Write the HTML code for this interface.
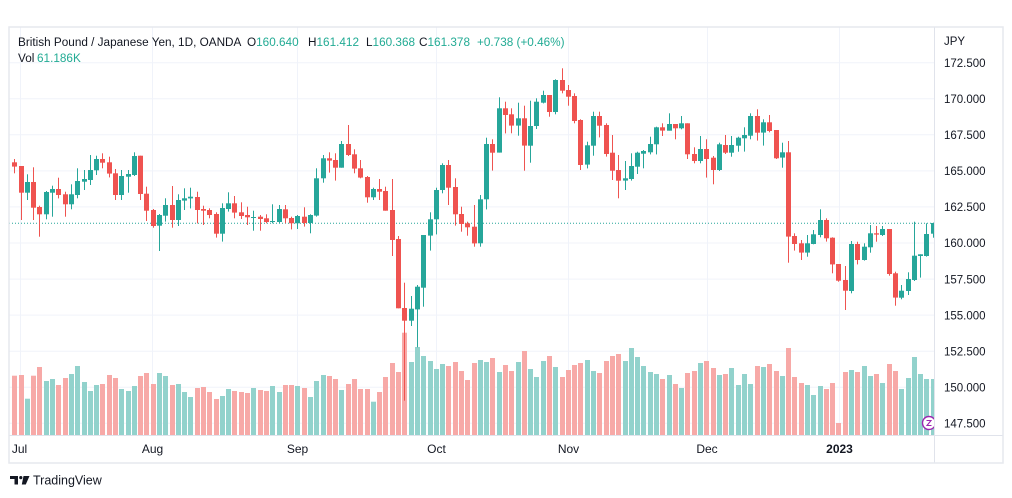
<!DOCTYPE html>
<html>
<head>
<meta charset="utf-8">
<style>
html,body{margin:0;padding:0;background:#fff;width:1012px;height:498px;overflow:hidden;}
svg{display:block;font-family:"Liberation Sans",Arial,sans-serif;}
</style>
</head>
<body>
<svg id="s" width="1012" height="498" viewBox="0 0 1012 498" xmlns="http://www.w3.org/2000/svg">
  <defs>
    <clipPath id="plot"><rect x="9" y="27" width="925" height="408"/></clipPath>
  </defs>
  <rect x="0" y="0" width="1012" height="498" fill="#fff"/>
  <g stroke="#f0f3fa" stroke-width="1">
    <line x1="9" x2="934" y1="62.7" y2="62.7"/>
    <line x1="9" x2="934" y1="98.8" y2="98.8"/>
    <line x1="9" x2="934" y1="134.8" y2="134.8"/>
    <line x1="9" x2="934" y1="170.9" y2="170.9"/>
    <line x1="9" x2="934" y1="206.9" y2="206.9"/>
    <line x1="9" x2="934" y1="243.0" y2="243.0"/>
    <line x1="9" x2="934" y1="279.1" y2="279.1"/>
    <line x1="9" x2="934" y1="315.1" y2="315.1"/>
    <line x1="9" x2="934" y1="351.2" y2="351.2"/>
    <line x1="9" x2="934" y1="387.2" y2="387.2"/>
    <line x1="9" x2="934" y1="423.3" y2="423.3"/>
    <line x1="20.5" x2="20.5" y1="27" y2="435"/>
    <line x1="152.5" x2="152.5" y1="27" y2="435"/>
    <line x1="297.5" x2="297.5" y1="27" y2="435"/>
    <line x1="436.5" x2="436.5" y1="27" y2="435"/>
    <line x1="568.5" x2="568.5" y1="27" y2="435"/>
    <line x1="707.5" x2="707.5" y1="27" y2="435"/>
    <line x1="839.5" x2="839.5" y1="27" y2="435"/>
  </g>
  <g clip-path="url(#plot)">
    <g id="vol"></g>
    <line x1="9" x2="934" y1="223.2" y2="223.2" stroke="#26a69a" stroke-width="1" stroke-dasharray="1 2"/>
    <g id="cdl"></g>
    <circle cx="929" cy="423" r="6.5" fill="#fff" stroke="#9c27b0" stroke-width="1.4"/>
    <path d="M926.5 420.5 L931 420.5 L927 425.5 L931.5 425.5" fill="none" stroke="#9c27b0" stroke-width="1.1"/>
  </g>
  <line x1="934.5" x2="934.5" y1="27" y2="463" stroke="#e0e3eb" stroke-width="1"/>
  <line x1="9" x2="1003" y1="435.5" y2="435.5" stroke="#e0e3eb" stroke-width="1"/>
  <rect x="9" y="27" width="994" height="436" fill="none" stroke="#e6e8ee" stroke-width="1.5"/>

  <g font-size="11.75" fill="#131722">
    <text x="18" y="46">British Pound / Japanese Yen, 1D, OANDA</text>
    <text x="247" y="46">O<tspan fill="#22ab94">160.640</tspan></text>
    <text x="308" y="46">H<tspan fill="#22ab94">161.412</tspan></text>
    <text x="366" y="46">L<tspan fill="#22ab94">160.368</tspan></text>
    <text x="419" y="46">C<tspan fill="#22ab94">161.378</tspan></text>
    <text x="477" y="46" fill="#22ab94">+0.738 (+0.46%)</text>
    <text x="18" y="62">Vol</text>
    <text x="37" y="62" fill="#22ab94">61.186K</text>
  </g>

  <g font-size="11.5" fill="#131722">
    <text x="944" y="45">JPY</text>
    <text x="944" y="66.9">172.500</text>
    <text x="944" y="103">170.000</text>
    <text x="944" y="139">167.500</text>
    <text x="944" y="175.1">165.000</text>
    <text x="944" y="211.1">162.500</text>
    <text x="944" y="247.2">160.000</text>
    <text x="944" y="283.3">157.500</text>
    <text x="944" y="319.3">155.000</text>
    <text x="944" y="355.4">152.500</text>
    <text x="944" y="391.4">150.000</text>
    <text x="944" y="427.5">147.500</text>
  </g>

  <g font-size="12" fill="#131722" text-anchor="middle">
    <text x="19.5" y="453">Jul</text>
    <text x="152.5" y="453">Aug</text>
    <text x="297.5" y="453">Sep</text>
    <text x="436.5" y="453">Oct</text>
    <text x="568.5" y="453">Nov</text>
    <text x="707" y="453">Dec</text>
    <text x="839.5" y="453" font-weight="bold">2023</text>
  </g>

  <g fill="#131722">
    <rect x="10" y="476" width="8" height="3"/>
    <rect x="14.5" y="476" width="3.5" height="8.5"/>
    <circle cx="20.8" cy="477.6" r="1.6"/>
    <polygon points="23.5,476 29.5,476 25.8,484.5 21.8,484.5"/>
    <text x="33" y="484.5" font-size="12.5">TradingView</text>
  </g>
</svg>
<script>
(function(){
var G='#26a69a',R='#ef5350',VG='#92d2cc',VR='#f7a9a7';
var S1=[
[0,132,142,155,175],[0,153,153,233,315],[1,178,201,233,255],[0,157,201,278,315],[0,272,276,298,365],
[1,228,231,298,313],[1,212,222,233,305],[0,188,222,240,250],[0,230,238,268,305],[1,208,238,268,283],
[1,160,198,240,250],[1,165,192,200,225],[1,120,165,195,210],[1,122,132,166,180],[0,115,132,143,160],
[0,125,142,176,187],[0,162,175,240,255],[1,165,183,240,255],[1,165,177,185,233],[1,112,123,180,183],
[0,122,122,237,255],[0,215,236,287,318],[0,282,285,333,338],[1,297,300,332,408],[1,250,270,302,320],
[0,213,270,315,338],[1,238,255,315,333],[1,220,250,257,285],[1,218,245,250,280],[0,230,246,285,325],
[0,272,282,287,330],[0,280,285,300,310],[0,292,297,356,368],[1,265,279,356,380],[1,232,265,282,290],
[0,243,265,293,310],[0,262,292,303,312],[0,275,300,307,330],[1,287,306,308,347],[0,300,305,312,347],
[0,298,310,321,325],[1,268,318,321,325],[1,270,282,321,325],[0,270,283,310,325],[0,305,309,325,343],
[1,300,303,325,342],[0,277,305,324,335],[1,298,300,324,355]];
var S2=[
[1,325,355,467,470],[1,285,295,355,368],[0,277,295,302,338],[0,280,300,323,362],[1,243,252,323,323],
[0,195,252,285,288],[0,268,283,326,340],[0,300,325,353,355],[0,348,351,412,428],[1,383,387,412,420],
[0,357,387,395,420],[0,380,393,452,452],[0,357,450,540,588],[0,528,537,745,745],[0,668,744,782,1022],
[1,708,746,782,798],[1,675,680,748,862],[1,525,525,683,740],[1,457,478,527,572],[1,383,390,478,523],
[1,310,315,390,400],[0,300,315,383,435],[0,355,381,463,497],[0,440,462,492,515],[0,485,490,502,527],
[0,435,500,550,560],[1,405,418,550,560],[1,233,252,418,448],[0,238,252,278,332],[1,112,145,278,278],
[0,125,145,165,220],[0,145,163,197,220],[1,128,175,197,227],[0,137,175,257,332],[1,122,198,257,308],
[1,115,125,198,207],[1,92,105,128,130],[0,105,105,156,170],[1,58,60,156,163],[0,25,60,92,100],
[0,75,90,110,137],[0,100,108,183,190],[0,178,180,315,330],[1,245,256,314,325],[1,155,168,257,287],
[0,155,168,197,232],[0,190,195,282,290]];
var S3=[
[0,105,158,212,240],[0,165,210,242,295],[1,183,235,242,270],[1,160,198,237,242],[1,155,158,200,222],
[1,150,153,161,205],[1,110,132,157,163],[1,80,82,133,163],[0,70,82,92,108],[1,40,72,92,92],
[0,72,72,85,118],[1,48,70,85,88],[0,70,70,163,177],[0,142,162,183,190],[1,108,147,183,190],
[0,118,147,177,233],[0,168,173,210,253],[1,128,133,210,213],[0,105,135,158,162],[1,108,135,158,170],
[1,110,113,137,155],[1,82,105,115,155],[1,40,48,107,118],[0,28,48,98,122],[1,58,67,98,137],
[0,45,67,93,97],[0,90,90,175,177],[1,128,157,173,203],[0,123,157,410,488],[0,400,408,432,452],
[0,420,430,458,480],[1,405,430,458,470],[1,390,403,432,433],[1,328,360,405,412],[0,355,360,415,425],
[0,412,413,493,520],[0,492,492,542,545],[0,498,540,572,630],[1,423,432,573,580],[0,425,432,480,493],
[1,430,440,480,482],[1,375,400,442,458],[0,378,400,404,425],[1,378,387,405,408],[0,387,387,522,527],
[0,515,520,593,617],[1,555,572,593,598],[1,517,537,573,585],[1,365,467,540,543],[1,463,463,468,533],
[1,370,402,468,470],[1,368,369,401,413]];
var V1=[62,60,131,62,36,78,72,90,69,57,33,81,108,90,87,60,69,102,108,93,63,54,87,54,63,90,87,111,126,99,96,111,132,123,102,108,111,114,99,105,108,93,111,90,90,93,99,126];
var V2=[963,945,948,957,990,972,957,987,987,1025,996,951,909,936,818,906,861,888,903,927,912,918,906,933,960,909,900,906,894,936,915,933,906,873,927,951,903,888,921,951,930,915,909,900,933,939,903];
var V3=[48,42,63,24,51,78,96,102,117,105,132,144,99,93,69,63,84,105,102,84,135,102,132,78,81,72,93,108,24,111,129,135,165,138,147,129,249,96,90,96,78,108,102,129,72,93,147,114,51,102,117,117];
var col=[];var c='',v='';
function X(i){return Math.round(14.3+6.291*i);}
function addC(off,start,arr){arr.forEach(function(d,j){var i=start+j;var x=X(i);var f=d[0]?G:R;col[i]=d[0];
 var h=off+d[1]/3,t=off+d[2]/3,b=off+d[3]/3,l=off+d[4]/3;
 c+='<rect x="'+x+'" y="'+h.toFixed(1)+'" width="1" height="'+Math.max(l-h,1).toFixed(1)+'" fill="'+f+'"/>';
 c+='<rect x="'+(x-2)+'" y="'+t.toFixed(1)+'" width="5" height="'+Math.max(b-t,1).toFixed(1)+'" fill="'+f+'"/>';});}
function addV(off,start,arr){arr.forEach(function(z,j){var i=start+j;var x=X(i);var y=off+z/3;
 v+='<rect x="'+(x-2)+'" y="'+y.toFixed(1)+'" width="5" height="'+(435-y).toFixed(1)+'" fill="'+(col[i]?VG:VR)+'"/>';});}
addC(115,0,S1);addC(60,48,S2);addC(100,95,S3);
addV(355,0,V1);addV(60,48,V2);addV(340,95,V3);
document.getElementById('vol').innerHTML=v;
document.getElementById('cdl').innerHTML=c;
})();
</script>
</body>
</html>
